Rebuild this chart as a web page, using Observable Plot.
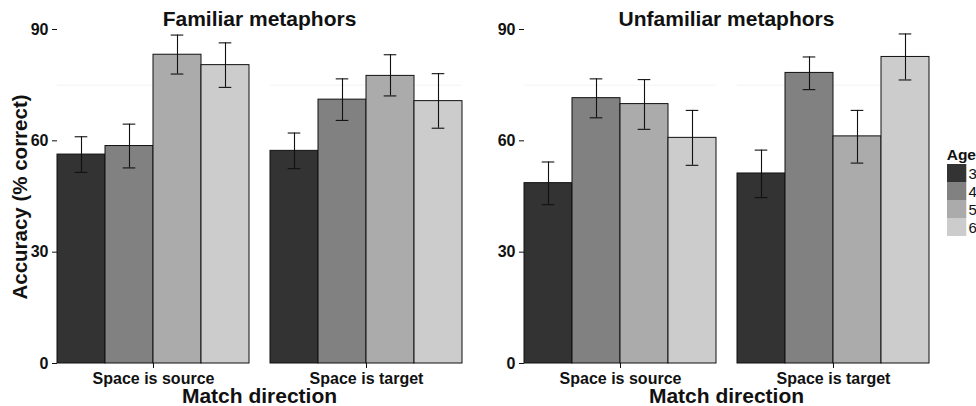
<!DOCTYPE html>
<html>
<head>
<meta charset="utf-8">
<script src="https://cdn.jsdelivr.net/npm/d3@7"></script>
<script src="https://cdn.jsdelivr.net/npm/@observablehq/plot@0.6"></script>
<style>
  html, body { margin: 0; padding: 0; background: #fff; }
  #chart { position: relative; width: 976px; height: 406px; overflow: hidden; background: #fff; }
  #chart svg { position: absolute; }
  g[aria-label="y-axis tick"] { stroke: #7a7a7a; }
  g[aria-label="fx-axis tick"] { stroke: #222; }
</style>
</head>
<body>
<div id="chart"></div>
<script>
// ---- data ----
const directions = ["Space is source", "Space is target"];
const ages = ["3", "4", "5", "6"];
const greys = ["#333333", "#818181", "#ababab", "#cccccc"];
const yTicks = [0, 30, 60, 90];
const minorGrid = [15, 45, 75];

// Familiar metaphors: [source, target] x ages 3..6
const familiarMean = [[56.3, 58.6, 83.2, 80.4], [57.3, 71.1, 77.5, 70.7]];
const familiarLow  = [[51.5, 52.7, 78.0, 74.4], [52.5, 65.5, 72.1, 63.4]];
const familiarHigh = [[61.1, 64.5, 88.5, 86.4], [62.1, 76.7, 83.2, 78.1]];

// Unfamiliar metaphors
const unfamiliarMean = [[48.6, 71.5, 69.9, 60.8], [51.2, 78.3, 61.2, 82.6]];
const unfamiliarLow  = [[42.8, 66.2, 63.1, 53.4], [44.7, 73.8, 54.0, 76.4]];
const unfamiliarHigh = [[54.3, 76.7, 76.5, 68.2], [57.5, 82.6, 68.2, 88.8]];

const panelTitles = ["Familiar metaphors", "Unfamiliar metaphors"];
const xTitle = "Match direction";
const yTitle = "Accuracy (% correct)";
const legendTitle = "Age";

const FONT = "'Liberation Sans', Arial, Helvetica, sans-serif";

function rows(means, lows, highs) {
  const out = [];
  directions.forEach((dir, i) => ages.forEach((age, j) => out.push({
    direction: dir, age, mean: means[i][j], lo: lows[i][j], hi: highs[i][j]
  })));
  return out;
}

function panel(data, width, marginRight) {
  const errStyle = {stroke: "#111", strokeWidth: 1.1};
  return Plot.plot({
    width, height: 406,
    marginLeft: 57, marginRight, marginTop: 29, marginBottom: 43,
    style: {fontFamily: FONT, fontSize: "16px", fontWeight: "bold", color: "#111", background: "transparent", overflow: "visible"},
    fx: {domain: directions, paddingInner: 0.0986, paddingOuter: 0, label: null},
    x: {domain: ages, padding: 0, axis: null},
    y: {domain: [0, 90], label: null},
    color: {domain: ages, range: greys},
    marks: [
      Plot.ruleY(minorGrid, {stroke: "#f3f3f3", strokeWidth: 1}),
      Plot.barY(data, {fx: "direction", x: "age", y: "mean", fill: "age", stroke: "#111", strokeWidth: 1}),
      Plot.ruleX(data, {fx: "direction", x: "age", y1: "lo", y2: "hi", ...errStyle}),
      Plot.tickY(data, {fx: "direction", x: "age", y: "lo", insetLeft: 17.7, insetRight: 17.7, ...errStyle}),
      Plot.tickY(data, {fx: "direction", x: "age", y: "hi", insetLeft: 17.7, insetRight: 17.7, ...errStyle}),
      Plot.axisY({ticks: yTicks, tickSize: 5, tickPadding: 4, label: null}),
      Plot.axisFx({anchor: "bottom", tickSize: 5, tickPadding: 4, label: null})
    ]
  });
}

const chart = document.getElementById("chart");

const left = panel(rows(familiarMean, familiarLow, familiarHigh), 490, 28);
left.style.left = "0px"; left.style.top = "0px";
chart.appendChild(left);

const right = panel(rows(unfamiliarMean, unfamiliarLow, unfamiliarHigh), 509, 47);
right.style.left = "467px"; right.style.top = "0px";
chart.appendChild(right);

// legend swatches as cells
const legend = Plot.plot({
  width: 29, height: 72.4,
  margin: 0, marginRight: 9.7,
  style: {background: "transparent", overflow: "visible"},
  y: {domain: ages, padding: 0, axis: null},
  color: {domain: ages, range: greys},
  marks: [Plot.cell(ages, {y: d => d, fill: d => d})]
});
legend.style.left = "946.7px"; legend.style.top = "164.3px";
chart.appendChild(legend);

// text overlay
const ov = d3.select(chart).append("svg")
  .attr("width", 976).attr("height", 406)
  .style("left", "0px").style("top", "0px")
  .style("font-family", FONT).style("fill", "#111");

const panelCenters = [259.5, 726.5];
panelTitles.forEach((t, i) => {
  ov.append("text").attr("x", panelCenters[i]).attr("y", 26).attr("text-anchor", "middle")
    .attr("font-size", 21).attr("font-weight", "bold").text(t);
  ov.append("text").attr("x", panelCenters[i]).attr("y", 402.5).attr("text-anchor", "middle")
    .attr("font-size", 21).attr("font-weight", "bold").text(xTitle);
});
ov.append("text").attr("transform", "translate(26.5,197) rotate(-90)").attr("text-anchor", "middle")
  .attr("font-size", 20.5).attr("font-weight", "bold").text(yTitle);

ov.append("text").attr("x", 946.7).attr("y", 159.5).attr("font-size", 15.5).attr("font-weight", "bold").text(legendTitle);
ages.forEach((a, i) => {
  ov.append("text").attr("x", 968.5).attr("y", 164.3 + 18.1 * i + 9 + 5.3)
    .attr("font-size", 15).text(a);
});
</script>
</body>
</html>
